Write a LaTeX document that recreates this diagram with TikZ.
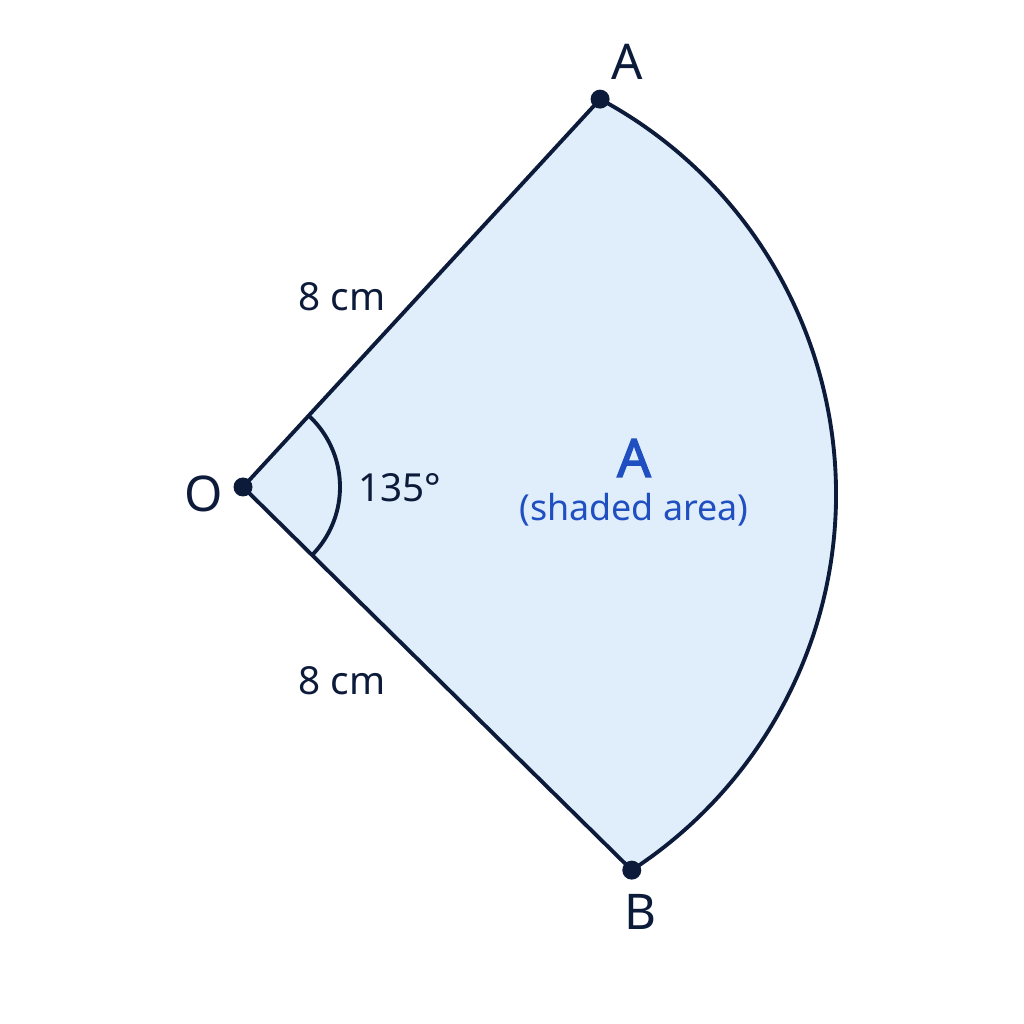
\documentclass[tikz,border=0pt]{standalone}
\usepackage{fontspec}
\setmainfont{Noto Sans}
\newfontfamily\areafont{Noto Sans}[FakeBold=2.5]
\usetikzlibrary{calc}
\definecolor{ink}{HTML}{0D1B3A}
\definecolor{sector}{HTML}{E0EEFB}
\definecolor{areablue}{HTML}{1F4FC0}
\begin{document}
\begin{tikzpicture}[line width=1.1pt,
   pt/.style={circle,fill=ink,inner sep=0pt,minimum size=0.19cm},
   lbl/.style={text=ink,font=\fontsize{11}{13}\selectfont}]
   \useasboundingbox (0,0) rectangle (10.24,10.24);
   \coordinate (O) at (2.43,5.37);
   \coordinate (C) at (3.875,5.30);
   \coordinate (A) at ($(C)+(61.7:4.485)$);
   \coordinate (B) at ($(C)+(-57:4.485)$);

   % sector
   \draw[ink,fill=sector] (O) -- (A) arc[start angle=61.7,end angle=-57,radius=4.485] -- cycle;
   % angle mark
   \draw[ink] (O) ++(47.4:0.97) arc[start angle=47.4,end angle=-44.6,radius=0.97];

   \node[pt] (Odot) at (O) {};
   \node[pt] (Adot) at (A) {};
   \node[pt] (Bdot) at (B) {};

   \node[lbl,font=\fontsize{14}{16}\selectfont] (Olbl) at (2.04,5.30) {O};
   \node[lbl,font=\fontsize{14}{16}\selectfont] (Albl) at (6.27,9.62) {A};
   \node[lbl,font=\fontsize{14}{16}\selectfont] (Blbl) at (6.40,1.12) {B};
   \node[lbl] (OAlen) at (3.42,7.27) {8 cm};
   \node[lbl] (OBlen) at (3.42,3.43) {8 cm};
   \node[lbl] (ang) at (4.00,5.36) {135°};
   \node[text=areablue,font=\areafont\fontsize{15}{18}\selectfont] (area) at (6.34,5.66) {A};
   \node[text=areablue,font=\fontsize{10.2}{12}\selectfont] (areatxt) at (6.34,5.14) {(shaded area)};
\end{tikzpicture}
\end{document}
